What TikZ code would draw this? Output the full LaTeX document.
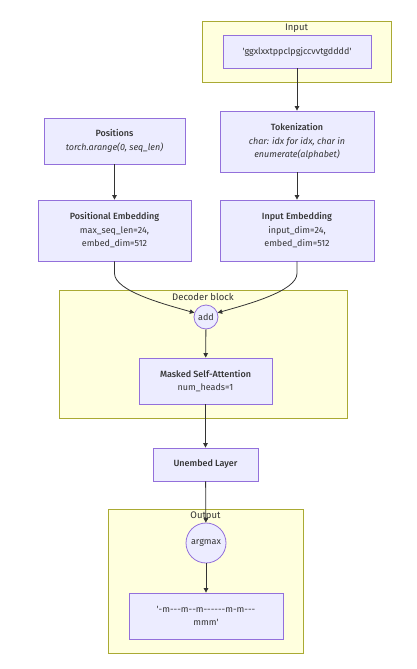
\documentclass[tikz,border=0pt]{standalone}
\usepackage{fontspec}
\setmainfont{Fira Sans}[Ligatures=TeXOff, BoldFont={Fira Sans Medium}, BoldItalicFont={Fira Sans Medium Italic}]
\usetikzlibrary{arrows.meta}
\definecolor{nodefill}{HTML}{ECECFF}
\definecolor{nodeline}{HTML}{9370DB}
\definecolor{clfill}{HTML}{FFFFDE}
\definecolor{clline}{HTML}{AAAA33}
\definecolor{ink}{HTML}{333333}
\tikzset{
  box/.style={draw=nodeline, fill=nodefill, line width=0.8pt, align=center, text=ink, font=\fontsize{9}{13.5}\selectfont, inner sep=0pt},
  circ/.style={draw=nodeline, fill=nodefill, line width=0.8pt, circle, text=ink, font=\fontsize{9}{13.5}\selectfont, inner sep=0pt},
  cluster/.style={draw=clline, fill=clfill, line width=0.8pt},
  cltitle/.style={text=ink, font=\fontsize{9.5}{11}\selectfont},
  conn/.style={draw=ink, line width=0.8pt, -{Triangle[length=4.5pt,width=4.5pt]}},
}
\begin{document}
\begin{tikzpicture}[x=1pt,y=-1pt]
\useasboundingbox[fill=white] (0,0) rectangle (416,669);
% clusters
\draw[cluster] (202,21) rectangle (391,82);
\node[cltitle] (tin) at (296.5,28) {Input};
\draw[cluster] (59,290) rectangle (347,418);
\node[cltitle] (tdec) at (203,297) {Decoder block};
\draw[cluster] (108,509) rectangle (303,653);
\node[cltitle] (tout) at (205.5,516) {Output};
% nodes
\node[box, minimum width=148pt, minimum height=33pt] (inp) at (297,51.5) {'ggxlxxtppclpgjccvvtgdddd'};
\node[box, minimum width=154pt, minimum height=61pt] (tok) at (297,141.5) {\textbf{Tokenization}\\ \textit{char: idx for idx, char in}\\ \textit{enumerate(alphabet)}};
\node[box, minimum width=141pt, minimum height=46pt] (pos) at (114.5,141) {\textbf{Positions}\\ \textit{torch.arange(0, seq\_len)}};
\node[box, minimum width=153pt, minimum height=61pt] (pe) at (114.5,230.5) {\textbf{Positional Embedding}\\ max\_seq\_len=24,\\ embed\_dim=512};
\node[box, minimum width=154pt, minimum height=61pt] (ie) at (297,230.5) {\textbf{Input Embedding}\\ input\_dim=24,\\ embed\_dim=512};
\node[circ, minimum size=24pt] (add) at (206,317) {add};
\node[box, minimum width=133pt, minimum height=46pt] (msa) at (205.5,381) {\textbf{Masked Self-Attention}\\ num\_heads=1};
\node[box, minimum width=105pt, minimum height=33pt] (une) at (205.5,464.5) {\textbf{Unembed Layer}};
\node[circ, minimum size=40pt] (am) at (206,543) {argmax};
\node[box, minimum width=154pt, minimum height=46pt] (out) at (206,616) {'-m---m--m------m-m---\\ mmm'};
% connectors
\draw[conn] (inp) -- (tok);
\draw[conn] (tok) -- (ie);
\draw[conn] (pos) -- (pe);
\draw[conn] (pe.south) -- ++(0,12) .. controls +(0,18) and +(-28,-8) .. (add.160);
\draw[conn] (ie.south) -- ++(0,12) .. controls +(0,18) and +(28,-8) .. (add.20);
\draw[conn] (add) -- (msa);
\draw[conn] (msa) -- (une);
\draw[conn] (une) -- (am);
\draw[conn] (am) -- (out);
\end{tikzpicture}
\end{document}
